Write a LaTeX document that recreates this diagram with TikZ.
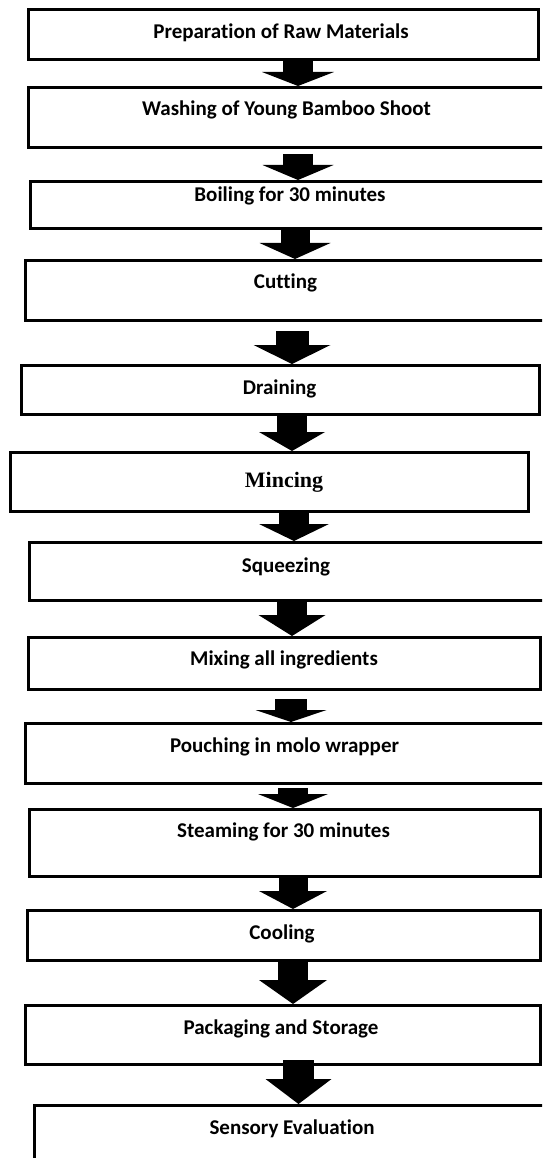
\documentclass[tikz,border=0pt]{standalone}
\usepackage{fontspec}
\newfontfamily\carl[Ligatures=NoCommon]{Carlito}
\newfontfamily\timesb{Liberation Serif}
\usetikzlibrary{arrows.meta}
\tikzset{
  box/.style={draw=black, line width=3pt, fill=white, inner sep=0pt, anchor=north west},
  lbl/.style={font=\carl\bfseries\fontsize{21}{24}\selectfont, inner sep=0pt, anchor=base},
  lblserif/.style={font=\timesb\bfseries\fontsize{22}{24}\selectfont, inner sep=0pt, anchor=base},
  flowarrow/.style n args={3}{draw=black, line width=#1pt, line cap=butt,
    -{Triangle[width=#2pt, length=#3pt, line width=0pt]}}
}
\newcommand{\procbox}[5]{%
  \pgfmathsetmacro{\bw}{#4-#2}\pgfmathsetmacro{\bh}{#5-#3}%
  \node[box, minimum width=\bw pt, minimum height=\bh pt] (#1) at (#2,#3) {};}
\begin{document}
\begin{tikzpicture}[x=1pt,y=-1pt]
\useasboundingbox (0,0) rectangle (542,1158);
\fill[white] (0,0) rectangle (542,1158);
\clip (0,0) rectangle (542,1158);
% boxes
\procbox{b1}{27}{8}{537}{58}
\procbox{b2}{27}{86}{546}{146}
\procbox{b3}{29}{180}{551}{227}
\procbox{b4}{23.5}{259}{548}{319}
\procbox{b5}{20}{364}{538}{413}
\procbox{b6}{9}{451}{527}{510}
\procbox{b7}{28}{541}{544}{599}
\procbox{b8}{27}{636}{539}{688}
\procbox{b9}{23.5}{722}{546}{782}
\procbox{b10}{27.5}{808}{539}{875}
\procbox{b11}{26}{909}{539}{959}
\procbox{b12}{23.5}{1004}{539}{1063}
\procbox{b13}{33}{1104}{551}{1170}
% labels
\node[lbl] (t1) at (281,39) {Preparation of Raw Materials};
\node[lbl] (t2) at (286.5,116) {Washing of Young Bamboo Shoot};
\node[lbl] (t3) at (290,202) {Boiling for 30 minutes};
\node[lbl] (t4) at (285.5,288) {Cutting};
\node[lbl] (t5) at (279.5,394) {Draining};
\node[lblserif] (t6) at (284,487) {Mincing};
\node[lbl] (t7) at (286,572) {Squeezing};
\node[lbl] (t8) at (284,665) {Mixing all ingredients};
\node[lbl] (t9) at (284.5,752) {Pouching in molo wrapper};
\node[lbl] (t10) at (283.5,837) {Steaming for 30 minutes};
\node[lbl] (t11) at (282,939) {Cooling};
\node[lbl] (t12) at (281,1034) {Packaging and Storage};
\node[lbl] (t13) at (292,1134) {Sensory Evaluation};
% block arrows
\draw[flowarrow={30}{72}{14}] (b1.south -| 298,0) -- (b2.north -| 298,0);
\draw[flowarrow={30}{71}{15}] ([yshift=-5pt]b2.south -| 298,0) -- (b3.north -| 298,0);
\draw[flowarrow={29}{71}{16}] (b3.south -| 295,0) -- (b4.north -| 295,0);
\draw[flowarrow={33}{77}{19}] ([yshift=-9pt]b4.south -| 292,0) -- (b5.north -| 292,0);
\draw[flowarrow={30}{66}{19}] (b5.south -| 292,0) -- (b6.north -| 292,0);
\draw[flowarrow={30}{70}{17}] (b6.south -| 294,0) -- (b7.north -| 294,0);
\draw[flowarrow={30}{67}{21}] (b7.south -| 292,0) -- (b8.north -| 292,0);
\draw[flowarrow={32}{71}{12}] ([yshift=-8pt]b8.south -| 291,0) -- (b9.north -| 291,0);
\draw[flowarrow={30}{70}{14}] ([yshift=-3pt]b9.south -| 293,0) -- (b10.north -| 293,0);
\draw[flowarrow={29}{68}{18}] (b10.south -| 293,0) -- (b11.north -| 293,0);
\draw[flowarrow={30}{68}{24}] (b11.south -| 293,0) -- (b12.north -| 293,0);
\draw[flowarrow={31}{66}{25}] ([yshift=6pt]b12.south -| 298.5,0) -- (b13.north -| 298.5,0);
\end{tikzpicture}
\end{document}
